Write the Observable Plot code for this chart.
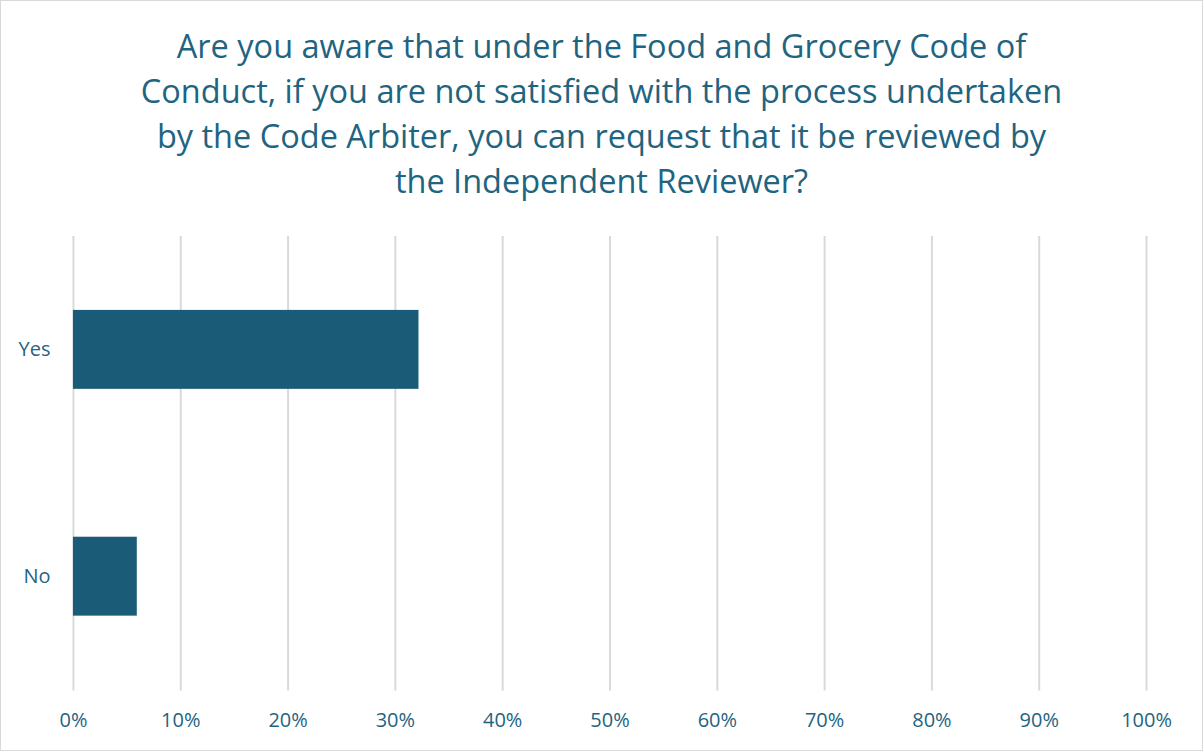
<!DOCTYPE html>
<html>
<head>
<meta charset="utf-8">
<script src="https://cdn.jsdelivr.net/npm/d3@7"></script>
<script src="https://cdn.jsdelivr.net/npm/@observablehq/plot@0.6"></script>
<style>
  html, body { margin: 0; padding: 0; background: #fff; }
  #chart {
    position: relative; width: 1203px; height: 751px; box-sizing: border-box;
    border: 1px solid #d9d9d9; background: #fff; overflow: hidden;
    font-family: "Open Sans", Lato, sans-serif;
  }
  #title {
    position: absolute; left: 0; top: 22px; width: 1201px; text-align: center;
    font-size: 32.5px; line-height: 45px; color: #1f6480;
  }
  #plot { position: absolute; left: -1px; top: 204px; }
</style>
</head>
<body>
<div id="chart">
  <div id="title">Are you aware that under the Food and Grocery Code of<br>Conduct, if you are not satisfied with the process undertaken<br>by the Code Arbiter, you can request that it be reviewed by<br>the Independent Reviewer?</div>
  <div id="plot"></div>
</div>
<script>
const categories = ["Yes", "No"];
const shares = [0.322, 0.0595];
const xTicks = [0, 0.1, 0.2, 0.3, 0.4, 0.5, 0.6, 0.7, 0.8, 0.9, 1.0];

const data = categories.map((c, i) => ({category: c, value: shares[i]}));

const textColor = "#1f6480";
const chart = Plot.plot({
  width: 1203,
  height: 547,
  marginLeft: 73,
  marginRight: 56,
  marginTop: 31,
  marginBottom: 61,
  style: {fontFamily: "'Open Sans', Lato, sans-serif", fontSize: "20px", color: textColor, background: "transparent"},
  x: {domain: [0, 1]},
  y: {domain: categories, paddingInner: 0.65, paddingOuter: 0.325},
  marks: [
    Plot.gridX(xTicks, {stroke: "#d9d9d9", strokeOpacity: 1, strokeWidth: 2}),
    Plot.barX(data, {x: "value", y: "category", fill: "#1a5c78"}),
    Plot.axisX(xTicks, {tickSize: 0, tickPadding: 22, tickFormat: d => Math.round(d * 100) + "%", fill: textColor, fontSize: 20, label: null}),
    Plot.axisY({tickSize: 0, tickPadding: 23, fill: textColor, fontSize: 20, label: null})
  ]
});
document.getElementById("plot").appendChild(chart);
</script>
</body>
</html>
